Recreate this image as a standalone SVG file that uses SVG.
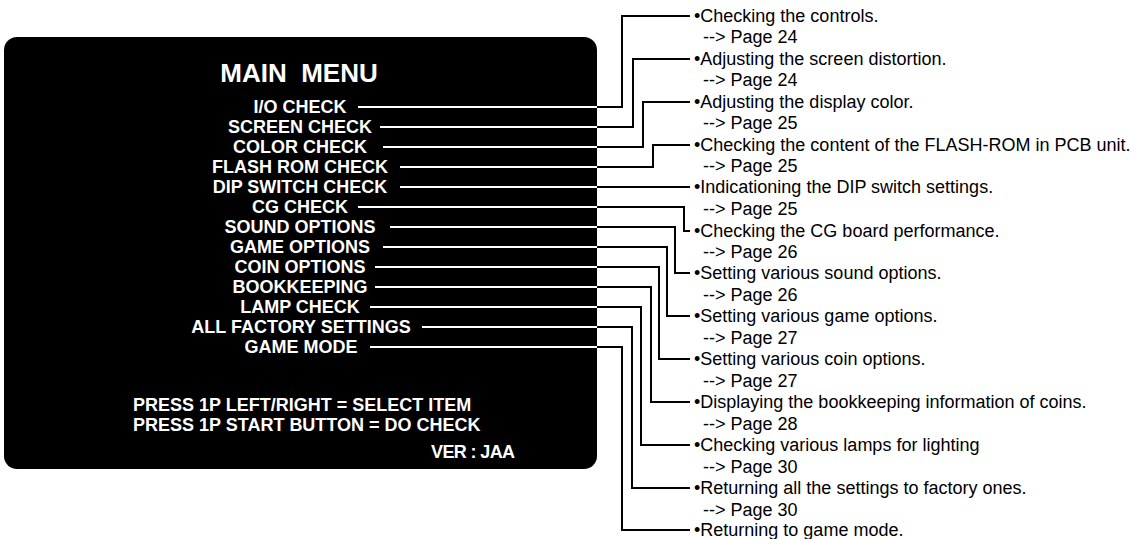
<svg xmlns="http://www.w3.org/2000/svg" width="1139" height="539" viewBox="0 0 1139 539">
<style>
  .bg { fill: #ffffff; }
  .box { fill: #000000; }
  .title { font-family: "Liberation Sans", Arial, sans-serif; font-weight: bold; font-size: 26px; fill: #ffffff; white-space: pre; text-anchor: middle; }
  .item { font-family: "Liberation Sans", Arial, sans-serif; font-weight: bold; font-size: 18px; fill: #ffffff; text-anchor: middle; }
  .foot { font-family: "Liberation Sans", Arial, sans-serif; font-weight: bold; font-size: 18px; fill: #ffffff; }
  .desc { font-family: "Liberation Sans", Arial, sans-serif; font-size: 18px; fill: #000000; }
  .lead { stroke: #ffffff; stroke-width: 2; fill: none; }
  .conn { stroke: #000000; stroke-width: 2; fill: none; stroke-linejoin: miter; stroke-linecap: butt; }
</style>
<rect class="bg" x="0" y="0" width="1139" height="539"/>

<g id="main-menu">
  <rect class="box" x="4" y="37" width="593" height="432" rx="13" ry="13"/>
  <text class="title" x="299" y="82">MAIN  MENU</text>
  <text class="item" x="300" y="113">I/O CHECK</text>
  <text class="item" x="300" y="133">SCREEN CHECK</text>
  <text class="item" x="300" y="153">COLOR CHECK</text>
  <text class="item" x="300" y="173">FLASH ROM CHECK</text>
  <text class="item" x="300" y="193">DIP SWITCH CHECK</text>
  <text class="item" x="300" y="213">CG CHECK</text>
  <text class="item" x="300" y="233">SOUND OPTIONS</text>
  <text class="item" x="300" y="253">GAME OPTIONS</text>
  <text class="item" x="300" y="273">COIN OPTIONS</text>
  <text class="item" x="300" y="293">BOOKKEEPING</text>
  <text class="item" x="300" y="313">LAMP CHECK</text>
  <text class="item" x="301" y="333">ALL FACTORY SETTINGS</text>
  <text class="item" x="301" y="353">GAME MODE</text>
  <text class="foot" x="133" y="411">PRESS 1P LEFT/RIGHT = SELECT ITEM</text>
  <text class="foot" x="133" y="431">PRESS 1P START BUTTON = DO CHECK</text>
  <text class="foot" x="431" y="458" textLength="84" lengthAdjust="spacing">VER : JAA</text>
</g>

<g id="connectors">
  <g id="lead-ins">
    <line class="lead" x1="358" y1="107" x2="597" y2="107"/>
    <line class="lead" x1="380" y1="127" x2="597" y2="127"/>
    <line class="lead" x1="383" y1="147" x2="597" y2="147"/>
    <line class="lead" x1="400" y1="167" x2="597" y2="167"/>
    <line class="lead" x1="400" y1="187" x2="597" y2="187"/>
    <line class="lead" x1="358" y1="207" x2="597" y2="207"/>
    <line class="lead" x1="390" y1="227" x2="597" y2="227"/>
    <line class="lead" x1="383" y1="247" x2="597" y2="247"/>
    <line class="lead" x1="375" y1="267" x2="597" y2="267"/>
    <line class="lead" x1="375" y1="287" x2="597" y2="287"/>
    <line class="lead" x1="370" y1="307" x2="597" y2="307"/>
    <line class="lead" x1="422" y1="327" x2="597" y2="327"/>
    <line class="lead" x1="370" y1="347" x2="597" y2="347"/>
  </g>
  <path class="conn" d="M597,107 H622 V16 H690"/>
  <path class="conn" d="M597,127 H633 V59 H690"/>
  <path class="conn" d="M597,147 H643 V102 H690"/>
  <path class="conn" d="M597,167 H653 V145 H690"/>
  <path class="conn" d="M597,187 H690"/>
  <path class="conn" d="M597,207 H684 V231 H690"/>
  <path class="conn" d="M597,227 H675 V273 H690"/>
  <path class="conn" d="M597,247 H667 V316 H690"/>
  <path class="conn" d="M597,267 H659 V359 H690"/>
  <path class="conn" d="M597,287 H651 V402 H690"/>
  <path class="conn" d="M597,307 H641 V445 H690"/>
  <path class="conn" d="M597,327 H632 V488 H690"/>
  <path class="conn" d="M597,347 H622 V530 H690"/>
</g>

<g id="desc-io"><text class="desc" x="694" y="22">•Checking the controls.</text><text class="desc" x="703" y="43">--&gt; Page 24</text></g>
<g id="desc-screen"><text class="desc" x="694" y="65">•Adjusting the screen distortion.</text><text class="desc" x="703" y="86">--&gt; Page 24</text></g>
<g id="desc-color"><text class="desc" x="694" y="108">•Adjusting the display color.</text><text class="desc" x="703" y="129">--&gt; Page 25</text></g>
<g id="desc-flash"><text class="desc" x="694" y="151">•Checking the content of the FLASH-ROM in PCB unit.</text><text class="desc" x="703" y="172">--&gt; Page 25</text></g>
<g id="desc-dip"><text class="desc" x="694" y="193">•Indicationing the DIP switch settings.</text><text class="desc" x="703" y="215">--&gt; Page 25</text></g>
<g id="desc-cg"><text class="desc" x="694" y="237">•Checking the CG board performance.</text><text class="desc" x="703" y="258">--&gt; Page 26</text></g>
<g id="desc-sound"><text class="desc" x="694" y="279">•Setting various sound options.</text><text class="desc" x="703" y="301">--&gt; Page 26</text></g>
<g id="desc-game"><text class="desc" x="694" y="322">•Setting various game options.</text><text class="desc" x="703" y="344">--&gt; Page 27</text></g>
<g id="desc-coin"><text class="desc" x="694" y="365">•Setting various coin options.</text><text class="desc" x="703" y="387">--&gt; Page 27</text></g>
<g id="desc-bookkeeping"><text class="desc" x="694" y="408">•Displaying the bookkeeping information of coins.</text><text class="desc" x="703" y="430">--&gt; Page 28</text></g>
<g id="desc-lamp"><text class="desc" x="694" y="451">•Checking various lamps for lighting</text><text class="desc" x="703" y="473">--&gt; Page 30</text></g>
<g id="desc-factory"><text class="desc" x="694" y="494">•Returning all the settings to factory ones.</text><text class="desc" x="703" y="516">--&gt; Page 30</text></g>
<g id="desc-mode"><text class="desc" x="694" y="536">•Returning to game mode.</text></g>
</svg>
